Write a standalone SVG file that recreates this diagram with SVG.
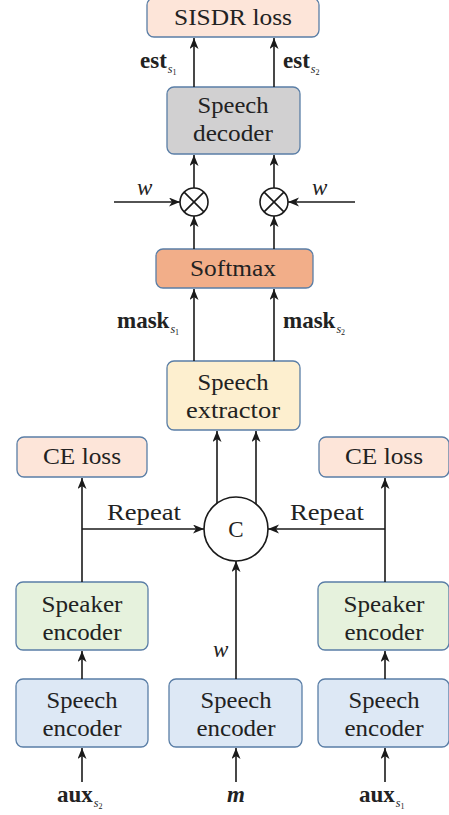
<svg xmlns="http://www.w3.org/2000/svg" width="449" height="815" viewBox="0 0 449 815" font-family="Liberation Serif, serif">
<style>
text{font-family:'Liberation Serif',serif;font-size:23px;fill:#222;text-anchor:middle}
.box{stroke:#5a7ea6;stroke-width:1.3}
.loss{fill:#fde5d9}
.dec{fill:#d1d0d1}
.soft{fill:#f2ae89}
.ext{fill:#fdefcf}
.spk{fill:#e6f2dd}
.enc{fill:#dde8f5}
.ln{stroke:#1a1a1a;stroke-width:1.6;fill:none}
.arr{marker-end:url(#ah)}
.lab{text-anchor:start}
.b{font-weight:bold}
.i{font-style:italic}
.sub{font-size:12px;font-style:italic}
.n{font-size:8px}
</style>
<defs>
<marker id="ah" markerUnits="userSpaceOnUse" markerWidth="12" markerHeight="10" refX="11" refY="4.5" orient="auto">
<path d="M0,0 L11,4.5 L0,9 L3,4.5 z" fill="#1a1a1a"/>
</marker>
</defs>

<g id="sisdr"><rect class="box loss" x="147" y="-2" width="172" height="39" rx="7"/><text x="233" y="25" textLength="118" lengthAdjust="spacingAndGlyphs">SISDR loss</text></g>
<g id="decoder"><rect class="box dec" x="167" y="87" width="133" height="67" rx="7"/><text x="233" y="113" textLength="71" lengthAdjust="spacingAndGlyphs">Speech</text><text x="233" y="141" textLength="80" lengthAdjust="spacingAndGlyphs">decoder</text></g>
<g id="mult1"><circle cx="194" cy="202" r="14" fill="#fff" class="ln"/><path class="ln" d="M184.1,192.1 L203.9,211.9 M203.9,192.1 L184.1,211.9"/></g>
<g id="mult2"><circle cx="274" cy="202" r="14" fill="#fff" class="ln"/><path class="ln" d="M264.1,192.1 L283.9,211.9 M283.9,192.1 L264.1,211.9"/></g>
<g id="softmax"><rect class="box soft" x="156" y="249" width="157" height="39" rx="7"/><text x="233" y="276" textLength="86" lengthAdjust="spacingAndGlyphs">Softmax</text></g>
<g id="extractor"><rect class="box ext" x="167" y="361" width="133" height="69" rx="7"/><text x="233" y="390" textLength="71" lengthAdjust="spacingAndGlyphs">Speech</text><text x="233" y="418" textLength="94" lengthAdjust="spacingAndGlyphs">extractor</text></g>
<g id="celoss1"><rect class="box loss" x="17" y="437" width="130" height="40" rx="7"/><text x="82" y="464" textLength="78" lengthAdjust="spacingAndGlyphs">CE loss</text></g>
<g id="celoss2"><rect class="box loss" x="319" y="437" width="130" height="40" rx="7"/><text x="384" y="464" textLength="78" lengthAdjust="spacingAndGlyphs">CE loss</text></g>
<g id="concat"><circle cx="236" cy="529" r="32" fill="#fff" class="ln"/><text x="236" y="537">C</text></g>
<g id="spk1"><rect class="box spk" x="16" y="582" width="132" height="68" rx="7"/><text x="82" y="612" textLength="81" lengthAdjust="spacingAndGlyphs">Speaker</text><text x="82" y="640" textLength="79" lengthAdjust="spacingAndGlyphs">encoder</text></g>
<g id="spk2"><rect class="box spk" x="318" y="582" width="131" height="68" rx="7"/><text x="384" y="612" textLength="81" lengthAdjust="spacingAndGlyphs">Speaker</text><text x="384" y="640" textLength="79" lengthAdjust="spacingAndGlyphs">encoder</text></g>
<g id="enc1"><rect class="box enc" x="16" y="679" width="132" height="68" rx="7"/><text x="82" y="708" textLength="71" lengthAdjust="spacingAndGlyphs">Speech</text><text x="82" y="736" textLength="79" lengthAdjust="spacingAndGlyphs">encoder</text></g>
<g id="enc2"><rect class="box enc" x="169" y="679" width="133" height="68" rx="7"/><text x="236" y="708" textLength="71" lengthAdjust="spacingAndGlyphs">Speech</text><text x="236" y="736" textLength="79" lengthAdjust="spacingAndGlyphs">encoder</text></g>
<g id="enc3"><rect class="box enc" x="318" y="679" width="131" height="68" rx="7"/><text x="384" y="708" textLength="71" lengthAdjust="spacingAndGlyphs">Speech</text><text x="384" y="736" textLength="79" lengthAdjust="spacingAndGlyphs">encoder</text></g>

<g id="connectors">
<line class="ln arr" x1="194" y1="87" x2="194" y2="38"/>
<line class="ln arr" x1="274" y1="87" x2="274" y2="38"/>
<line class="ln arr" x1="194" y1="188" x2="194" y2="155"/>
<line class="ln arr" x1="274" y1="188" x2="274" y2="155"/>
<line class="ln arr" x1="114" y1="202" x2="180" y2="202"/>
<line class="ln arr" x1="355" y1="202" x2="288" y2="202"/>
<line class="ln arr" x1="194" y1="249" x2="194" y2="216"/>
<line class="ln arr" x1="274" y1="249" x2="274" y2="216"/>
<line class="ln arr" x1="194" y1="361" x2="194" y2="289"/>
<line class="ln arr" x1="274" y1="361" x2="274" y2="289"/>
<line class="ln arr" x1="217" y1="503.5" x2="217" y2="431"/>
<line class="ln arr" x1="256" y1="504" x2="256" y2="431"/>
<line class="ln arr" x1="82" y1="582" x2="82" y2="478"/>
<line class="ln arr" x1="82" y1="529" x2="204" y2="529"/>
<line class="ln arr" x1="385" y1="582" x2="385" y2="478"/>
<line class="ln arr" x1="385" y1="529" x2="268" y2="529"/>
<line class="ln arr" x1="236" y1="679" x2="236" y2="561"/>
<line class="ln arr" x1="82" y1="679" x2="82" y2="651"/>
<line class="ln arr" x1="385" y1="679" x2="385" y2="651"/>
<line class="ln arr" x1="82" y1="782" x2="82" y2="748"/>
<line class="ln arr" x1="236" y1="782" x2="236" y2="748"/>
<line class="ln arr" x1="385" y1="782" x2="385" y2="748"/>
</g>

<g id="labels">
<text class="lab" x="140" y="68"><tspan class="b">est</tspan><tspan class="sub" dx="1" dy="5">s</tspan><tspan class="n" dy="2">1</tspan></text>
<text class="lab" x="283" y="68"><tspan class="b">est</tspan><tspan class="sub" dx="1" dy="5">s</tspan><tspan class="n" dy="2">2</tspan></text>
<text class="lab i" x="137" y="195">w</text>
<text class="lab i" x="312" y="195">w</text>
<text class="lab" x="117" y="328"><tspan class="b">mask</tspan><tspan class="sub" dx="1" dy="5">s</tspan><tspan class="n" dy="2">1</tspan></text>
<text class="lab" x="283" y="328"><tspan class="b">mask</tspan><tspan class="sub" dx="1" dy="5">s</tspan><tspan class="n" dy="2">2</tspan></text>
<text x="144" y="520" textLength="74" lengthAdjust="spacingAndGlyphs">Repeat</text>
<text x="327" y="520" textLength="74" lengthAdjust="spacingAndGlyphs">Repeat</text>
<text class="lab i" x="213" y="657">w</text>
<text class="lab" x="57" y="802"><tspan class="b">aux</tspan><tspan class="sub" dx="1" dy="5">s</tspan><tspan class="n" dy="2">2</tspan></text>
<text x="236" y="802" class="b i">m</text>
<text class="lab" x="359" y="802"><tspan class="b">aux</tspan><tspan class="sub" dx="1" dy="5">s</tspan><tspan class="n" dy="2">1</tspan></text>
</g>
</svg>
